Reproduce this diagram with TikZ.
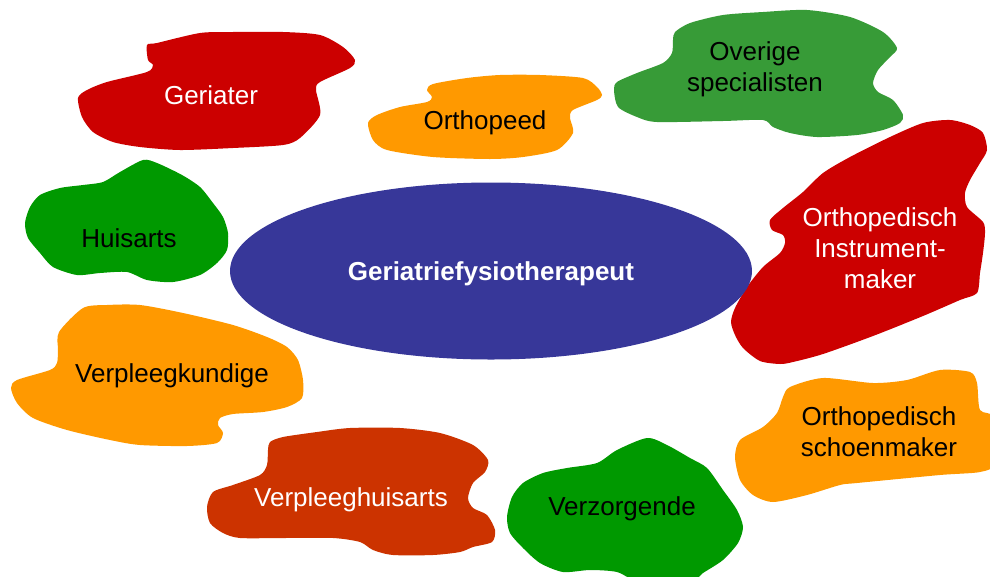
\documentclass[tikz,border=0pt]{standalone}
\usepackage{fontspec}
\setmainfont{Liberation Sans}
\usepackage{tikz}
\usetikzlibrary{shapes.geometric}
\definecolor{hubblue}{HTML}{373799}
\definecolor{blobred}{HTML}{CC0000}
\definecolor{bloborange}{HTML}{FF9900}
\definecolor{blobgreen}{HTML}{009900}
\definecolor{bloblightgreen}{HTML}{379B37}
\definecolor{blobrust}{HTML}{CC3300}

\begin{document}
\begin{tikzpicture}[
    x=1pt, y=-1pt,
    blob/.style={fill=#1, draw=none},
    lbl/.style={font=\fontsize{26}{31}\selectfont, align=center, text=#1},
    hub/.style={ellipse, fill=hubblue, minimum width=522pt, minimum height=177pt, inner sep=0pt, text depth=0pt, font=\fontsize{26}{31}\selectfont\bfseries, text=white},
]
    \useasboundingbox (0,0) rectangle (990,576);
    \clip (0,0) rectangle (990,576);

    % Blobs round the centre
    \fill[blob=blobred] plot[smooth cycle, tension=0.45] coordinates {(147,45) (157,43) (200,33) (233,32) (283,32) (320,35) (343,47) (355,60) (350,68) (320,82) (316,90) (320,115) (300,138) (283,145) (233,148) (180,150) (140,147) (113,142) (93,132) (82,117) (78,98) (87,90) (107,82) (147,72) (153,65) (148,60)};
    \fill[blob=bloborange] plot[smooth cycle, tension=0.45] coordinates {(433,84) (467,78) (500,75) (540,75) (583,78) (597,87) (602,95) (597,100) (573,110) (570,118) (573,133) (557,150) (523,157) (490,159) (433,157) (387,150) (373,140) (368,123) (377,115) (400,107) (427,102) (432,97) (427,90)};
    \fill[blob=bloblightgreen] plot[smooth cycle, tension=0.45] coordinates {(675,32) (690,23) (723,15) (763,12) (807,10) (850,17) (883,32) (897,48) (890,57) (878,70) (873,83) (878,92) (893,100) (903,115) (900,123) (883,130) (857,135) (817,137) (790,133) (773,127) (763,120) (723,121) (657,122) (637,117) (618,107) (614,90) (617,82) (637,73) (663,63) (672,53) (673,40)};
    \fill[blob=blobred] plot[smooth cycle, tension=0.45] coordinates {(770,220) (783,208) (803,192) (823,173) (850,157) (890,137) (923,123) (950,120) (970,125) (983,133) (987,150) (980,163) (970,180) (965,193) (967,207) (983,222) (985,233) (983,253) (980,273) (977,293) (960,300) (923,316) (873,336) (823,354) (793,362) (780,364) (760,361) (743,348) (735,335) (731,322) (735,308) (747,287) (763,267) (780,253) (785,243) (783,235) (772,230)};
    \fill[blob=blobgreen] plot[smooth cycle, tension=0.45] coordinates {(103,182) (120,172) (143,160) (157,163) (182,175) (200,187) (213,203) (223,217) (228,233) (227,250) (217,263) (200,275) (173,282) (147,280) (127,272) (100,273) (77,275) (53,267) (40,253) (28,238) (25,223) (30,207) (40,195) (60,188) (83,185)};
    \fill[blob=bloborange] plot[smooth cycle, tension=0.45] coordinates {(83,308) (107,305) (140,305) (183,313) (233,325) (267,337) (287,347) (298,360) (303,380) (302,398) (287,407) (263,412) (233,414) (220,418) (218,425) (223,433) (217,443) (187,446) (140,445) (110,440) (67,430) (33,418) (17,403) (11,388) (17,380) (50,370) (57,363) (58,350) (59,332)};
    \fill[blob=blobrust] plot[smooth cycle, tension=0.45] coordinates {(270,442) (283,437) (317,432) (350,428) (400,428) (440,433) (473,445) (488,460) (485,472) (473,483) (468,498) (473,508) (487,515) (495,530) (492,542) (473,547) (460,552) (433,555) (393,555) (373,550) (360,542) (333,538) (283,538) (240,538) (223,533) (210,523) (207,507) (213,492) (233,485) (260,475) (267,465) (268,450)};
    \fill[blob=blobgreen] plot[smooth cycle, tension=0.45] coordinates {(597,463) (617,450) (647,438) (667,445) (690,458) (707,468) (723,490) (737,510) (743,527) (738,543) (723,560) (703,573) (690,582) (640,582) (617,572) (590,570) (563,572) (540,563) (523,548) (510,533) (507,517) (512,497) (523,483) (543,473) (567,468)};
    \fill[blob=bloborange] plot[smooth cycle, tension=0.45] coordinates {(790,387) (823,378) (873,383) (907,380) (940,370) (970,372) (977,383) (980,410) (995,418) (995,463) (980,472) (940,475) (857,483) (840,485) (807,495) (773,502) (753,495) (740,480) (735,457) (740,440) (763,427) (777,413) (783,397)};

    % Central node
    \node[hub] (fysio) at (491,271) {Geriatriefysiotherapeut};

    % Labels
    \node[lbl=white] (geriater) at (211,95) {Geriater};
    \node[lbl=black] (orthopeed) at (485,123) {Orthopeed};
    \node[lbl=black] (overige) at (755,69) {Overige\\specialisten};
    \node[lbl=white] (instrument) at (880,248) {Orthopedisch\\Instrument-\\maker};
    \node[lbl=black] (huisarts) at (129,238) {Huisarts};
    \node[lbl=black] (verpleegk) at (172,376) {Verpleegkundige};
    \node[lbl=white] (verpleegh) at (351,500) {Verpleeghuisarts};
    \node[lbl=black] (verzorg) at (622,509) {Verzorgende};
    \node[lbl=black] (schoen) at (879,432) {Orthopedisch\\schoenmaker};

\end{tikzpicture}
\end{document}
